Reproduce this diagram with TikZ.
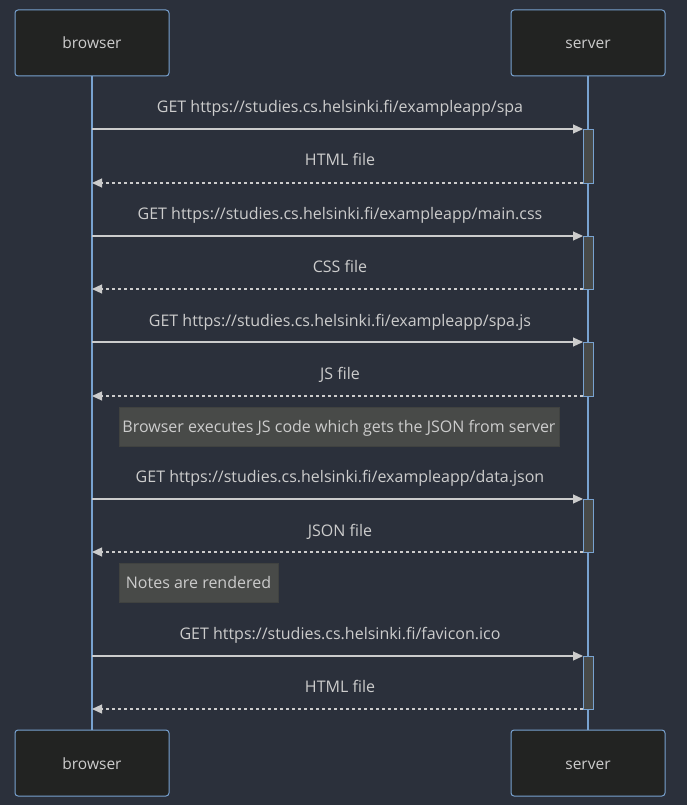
\documentclass[tikz,border=0pt]{standalone}
\usepackage{fontspec}
\setmainfont{Open Sans}
\usetikzlibrary{arrows.meta}
\definecolor{bgc}{RGB}{43,48,59}
\definecolor{boxfill}{RGB}{34,35,34}
\definecolor{boxline}{RGB}{120,162,208}
\definecolor{txt}{RGB}{204,204,204}
\definecolor{msgline}{RGB}{204,204,204}
\definecolor{notefill}{RGB}{72,74,72}
\definecolor{noteline}{RGB}{64,66,64}
\definecolor{actfill}{RGB}{72,74,72}
\begin{document}
\begin{tikzpicture}[x=1pt,y=-1pt,
  actor/.style={draw=boxline,fill=boxfill,rounded corners=3pt,line width=1pt,minimum width=154pt,minimum height=66pt,inner sep=0pt,text=txt,font=\fontsize{15.5}{18}\selectfont,text height=12pt,text depth=0pt},
  life/.style={draw=boxline,line width=1.2pt},
  actbar/.style={draw=boxline,fill=actfill,line width=0.8pt},
  lbl/.style={text=txt,font=\fontsize{16}{19}\selectfont,inner sep=0pt,anchor=base},
  req/.style={draw=msgline,line width=1.2pt,-{Triangle[length=10pt,width=9pt]}},
  resp/.style={draw=msgline,line width=1.2pt,dash pattern=on 3pt off 3pt,-{Triangle[length=10pt,width=9pt]}},
  note/.style={draw=noteline,fill=notefill,line width=1pt,text=txt,font=\fontsize{16}{19}\selectfont,inner sep=0pt,minimum height=39pt,text height=11.5pt,text depth=0pt}]
\fill[bgc] (0,0) rectangle (687,805);
\useasboundingbox (0,0) rectangle (687,805);
% lifelines
\coordinate (bt) at (92,76);
\coordinate (bb) at (92,730);
\coordinate (st) at (588,76);
\coordinate (sb) at (588,730);
\draw[life] (bt) -- (bb);
\draw[life] (st) -- (sb);
% actors
\node[actor] (b1) at (92,43) {browser};
\node[actor] (s1) at (588,43) {server};
\node[actor] (b2) at (92,763) {browser};
\node[actor] (s2) at (588,763) {server};
% activation bars
\foreach \t/\bo [count=\i] in {129/183,236/289,342/396,499/552,656/709}{
  \draw[actbar] (583,\t) rectangle (593,\bo);
  \coordinate (rq\i) at (92,\t);
  \coordinate (rqe\i) at (583,\t);
  \coordinate (rs\i) at (583,\bo);
  \coordinate (rse\i) at (92,\bo);
}
% messages
\node[lbl] (m1) at (340,113) {GET https://studies.cs.helsinki.fi/exampleapp/spa};
\draw[req] (rq1) -- (rqe1);
\node[lbl] (m2) at (340,166) {HTML file};
\draw[resp] (rs1) -- (rse1);
\node[lbl] (m3) at (340,219) {GET https://studies.cs.helsinki.fi/exampleapp/main.css};
\draw[req] (rq2) -- (rqe2);
\node[lbl] (m4) at (340,272) {CSS file};
\draw[resp] (rs2) -- (rse2);
\node[lbl] (m5) at (340,326) {GET https://studies.cs.helsinki.fi/exampleapp/spa.js};
\draw[req] (rq3) -- (rqe3);
\node[lbl] (m6) at (340,379) {JS file};
\draw[resp] (rs3) -- (rse3);
\node[note,minimum width=440pt] (n1) at (339,426.5) {Browser executes JS code which gets the JSON from server};
\node[lbl] (m7) at (340,482) {GET https://studies.cs.helsinki.fi/exampleapp/data.json};
\draw[req] (rq4) -- (rqe4);
\node[lbl] (m8) at (340,536) {JSON file};
\draw[resp] (rs4) -- (rse4);
\node[note,minimum width=159pt] (n2) at (198.5,582.5) {Notes are rendered};
\node[lbl] (m9) at (340,639) {GET https://studies.cs.helsinki.fi/favicon.ico};
\draw[req] (rq5) -- (rqe5);
\node[lbl] (m10) at (340,692) {HTML file};
\draw[resp] (rs5) -- (rse5);
\end{tikzpicture}
\end{document}
